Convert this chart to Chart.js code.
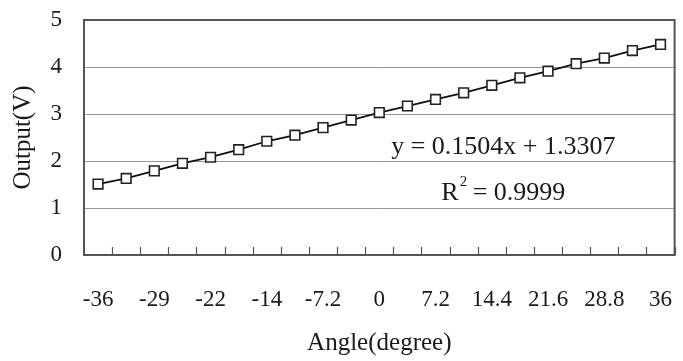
<!DOCTYPE html>
<html>
<head>
<meta charset="utf-8">
<script src="https://cdn.jsdelivr.net/npm/chart.js@4/dist/chart.umd.min.js"></script>
<style>
  html, body { margin: 0; padding: 0; background: #fff; }
  #wrap { width: 683px; height: 361px; }
</style>
</head>
<body>
<div id="wrap"><canvas id="chart" width="683" height="361"></canvas></div>
<script>
// angle categories (degree), step 3.6
var angles = [-36, -32.4, -28.8, -25.2, -21.6, -18, -14.4, -10.8, -7.2, -3.6, 0,
  3.6, 7.2, 10.8, 14.4, 18, 21.6, 25.2, 28.8, 32.4, 36];
// shown on the axis, every other one (Excel general format)
var tickLabels = ["-36", "", "-29", "", "-22", "", "-14", "", "-7.2", "", "0",
  "", "7.2", "", "14.4", "", "21.6", "", "28.8", "", "36"];
// output voltage
var output = [1.51, 1.63, 1.79, 1.95, 2.08, 2.24, 2.42, 2.55, 2.71, 2.87, 3.03,
  3.17, 3.31, 3.45, 3.61, 3.77, 3.91, 4.07, 4.19, 4.35, 4.48];
var fitText = "y = 0.1504x + 1.3307";
var r2Value = " = 0.9999";

var serif = "'Liberation Serif', 'Times New Roman', serif";
var ink = "#1a1a1a";

// plot frame + inward tick marks on the category axis + trendline label
var framePlugin = {
  id: "frame",
  afterDraw: function (chart) {
    var ctx = chart.ctx, a = chart.chartArea, xs = chart.scales.x;
    ctx.save();
    ctx.strokeStyle = "#555";
    ctx.lineWidth = 2;
    ctx.strokeRect(a.left, a.top, a.right - a.left, a.bottom - a.top);
    var step = xs.getPixelForValue(1) - xs.getPixelForValue(0);
    ctx.lineWidth = 1.2;
    ctx.beginPath();
    for (var i = 0; i <= angles.length; i++) {
      var x = Math.round(xs.getPixelForValue(0) - step / 2 + i * step) + 0.5;
      ctx.moveTo(x, a.bottom);
      ctx.lineTo(x, a.bottom - 8);
    }
    ctx.stroke();

    var cx = a.left + (a.right - a.left) * 0.71;
    ctx.fillStyle = ink;
    ctx.font = "26px " + serif;
    ctx.textAlign = "center";
    ctx.textBaseline = "middle";
    ctx.fillText(fitText, cx, a.top + (a.bottom - a.top) * 0.54);

    var ry = a.top + (a.bottom - a.top) * 0.735;
    var rw = ctx.measureText("R").width;
    var vw = ctx.measureText(r2Value).width;
    ctx.font = "15px " + serif;
    var sw = ctx.measureText("2").width;
    var x0 = cx - (rw + sw + vw) / 2;
    ctx.textAlign = "left";
    ctx.fillText("2", x0 + rw + 1, ry - 11);
    ctx.font = "26px " + serif;
    ctx.fillText("R", x0, ry);
    ctx.fillText(r2Value, x0 + rw + sw, ry);
    ctx.restore();
  }
};

var chart = new Chart(document.getElementById("chart"), {
  type: "line",
  data: {
    labels: angles.map(String),
    datasets: [{
      label: "Output",
      data: output,
      borderColor: "#111",
      borderWidth: 1.8,
      tension: 0,
      pointStyle: "rect",
      pointRadius: 6.8,
      pointBackgroundColor: "#fff",
      pointBorderColor: "#222",
      pointBorderWidth: 1.6
    }]
  },
  options: {
    responsive: false,
    animation: false,
    devicePixelRatio: 1,
    layout: { padding: { top: 20, right: 4, left: 0, bottom: 0 } },
    plugins: { legend: { display: false }, tooltip: { enabled: false } },
    scales: {
      x: {
        type: "category",
        offset: true,
        grid: { display: false, drawTicks: false },
        border: { display: false },
        ticks: {
          autoSkip: false,
          maxRotation: 0,
          padding: 31,
          color: ink,
          font: { family: serif, size: 23 },
          callback: function (v, i) { return tickLabels[i]; }
        },
        title: {
          display: true,
          text: "Angle(degree)",
          color: ink,
          font: { family: serif, size: 25 },
          padding: { top: 0, bottom: 3 }
        },
        afterFit: function (s) { s.height = 106; s.paddingLeft = 0; s.paddingRight = 0; }
      },
      y: {
        min: 0,
        max: 5,
        grid: { color: "#999", lineWidth: 1, drawTicks: false },
        border: { display: false },
        ticks: {
          stepSize: 1,
          padding: 22,
          color: ink,
          font: { family: serif, size: 23 }
        },
        title: {
          display: true,
          text: "Output(V)",
          color: ink,
          font: { family: serif, size: 25 },
          padding: { top: 8, bottom: 0 }
        },
        afterFit: function (s) { s.width = 84; s.paddingTop = 0; s.paddingBottom = 0; }
      }
    }
  },
  plugins: [framePlugin]
});
</script>
</body>
</html>
